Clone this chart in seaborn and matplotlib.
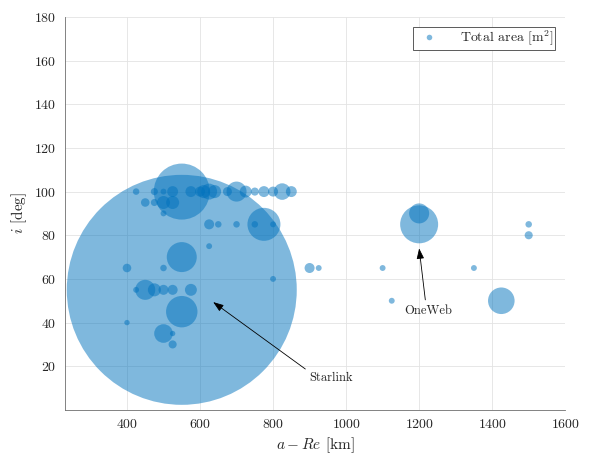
import matplotlib
matplotlib.use('Agg')
import matplotlib.pyplot as plt
import seaborn as sns
import pandas as pd
from matplotlib.lines import Line2D

# 궤도 고도 [km], 경사각 [deg], 총 면적 [m^2]
altitude = [550, 550,
            425, 475, 500, 525, 575, 600, 610, 625, 640, 675, 700, 725, 750, 775, 800, 825, 850,
            450, 475, 500, 525, 500,
            625, 650, 700, 750, 775, 800,
            625, 550,
            400, 500, 900, 925, 1100, 1350,
            800,
            425, 450, 475, 500, 525, 575,
            550, 400, 500, 525, 525,
            1200, 1200, 1500, 1500, 1125, 1425]
inclination = [55, 100,
               100, 100, 100, 100, 100, 100, 100, 100, 100, 100, 100, 100, 100, 100, 100, 100, 100,
               95, 95, 95, 95, 90,
               85, 85, 85, 85, 85, 85,
               75, 70,
               65, 65, 65, 65, 65, 65,
               60,
               55, 55, 55, 55, 55, 55,
               45, 40, 35, 35, 30,
               85, 90, 85, 80, 50, 50]
total_area = [13710, 813,
              11, 13, 9, 31, 31, 26, 44, 66, 44, 21, 104, 37, 17, 31, 26, 71, 31,
              19, 13, 44, 44, 9,
              26, 11, 11, 11, 282, 9,
              9, 233,
              19, 11, 26, 9, 9, 9,
              9,
              9, 104, 44, 26, 26, 37,
              256, 7.5, 90, 7.5, 17,
              374, 104, 11, 17, 9, 183]

df = pd.DataFrame({'alt': altitude, 'inc': inclination, 'area': total_area})

sns.set_theme(style='whitegrid')
plt.rcParams['font.family'] = 'serif'
plt.rcParams['font.serif'] = ['cmr10']
plt.rcParams['mathtext.fontset'] = 'cm'
plt.rcParams['axes.formatter.use_mathtext'] = True

fig, ax = plt.subplots(figsize=(5.9, 4.57), dpi=100)
fig.subplots_adjust(left=0.110, right=0.958, top=0.963, bottom=0.103)

blue = '#0072BD'
sns.scatterplot(data=df, x='alt', y='inc', s=df['area'] * 2.0, color=blue,
                alpha=0.5, linewidth=0, ax=ax, legend=False)

ax.set_xlim(230, 1600)
ax.set_ylim(0, 180)
ax.set_xticks(range(400, 1601, 200))
ax.set_yticks(range(20, 181, 20))
ax.set_xlabel('$a - Re$ [km]', fontsize=11, color='#262626', labelpad=3)
ax.set_ylabel('$i$ [deg]', fontsize=11, color='#262626', labelpad=4)

ax.grid(True, color='#e3e3e3', linewidth=0.6)
for side in ['top', 'right']:
    ax.spines[side].set_visible(False)
for side in ['left', 'bottom']:
    ax.spines[side].set_color('#6e6e6e')
    ax.spines[side].set_linewidth(0.6)
ax.tick_params(direction='in', length=3.5, width=0.5, color='#6e6e6e',
               labelcolor='#262626', labelsize=10, pad=6)

# 주석 화살표
arrow = dict(arrowstyle='-|>,head_length=0.7,head_width=0.25', color='black',
             lw=0.6, shrinkA=1, shrinkB=0)
ax.annotate('Starlink', xy=(636, 49.4), xytext=(960, 14.5), fontsize=9,
            ha='center', va='center', arrowprops=dict(arrow, relpos=(0, 1)))
ax.annotate('OneWeb', xy=(1200, 74), xytext=(1225, 45.5), fontsize=9,
            ha='center', va='center', arrowprops=dict(arrow, relpos=(0.45, 1)))

handle = Line2D([], [], marker='o', linestyle='none', markersize=4,
                markerfacecolor=blue, markeredgewidth=0, alpha=0.5)
leg = ax.legend([handle], ['Total area [m$^2$]'], loc='upper right', fontsize=10,
                fancybox=False, framealpha=1, edgecolor='#404040',
                borderaxespad=0.7, handletextpad=1.2, borderpad=0.15)
leg.get_frame().set_linewidth(0.6)

plt.savefig('out.png', dpi=100)
